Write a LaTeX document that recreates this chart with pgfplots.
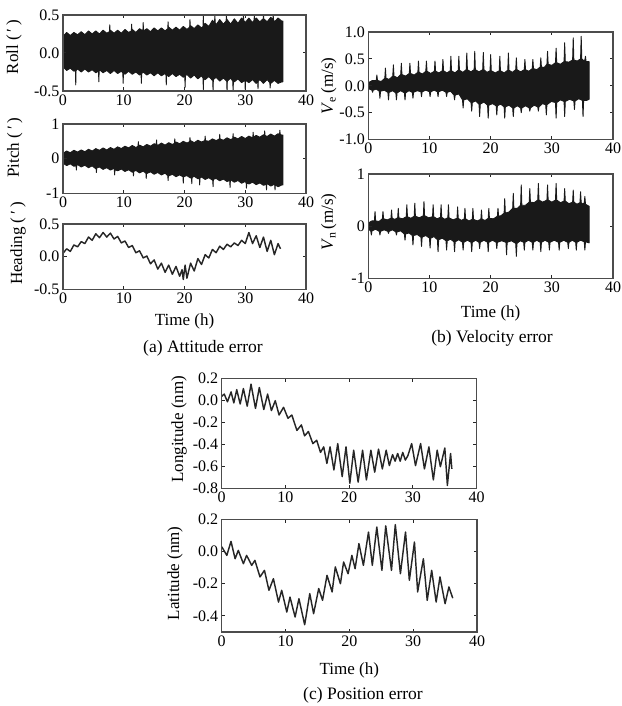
\documentclass[border=0pt]{standalone}
\usepackage{fontspec}
\setmainfont{Liberation Serif}
\usepackage{pgfplots}
\pgfplotsset{compat=1.18}
\pgfplotsset{
  myax/.style={
    scale only axis, anchor=south west, axis on top,
    xmin=0, xmax=40, xtick={0,10,20,30,40}, xticklabels={0,10,20,30,40},
    tick align=inside, major tick length=3.5pt,
    axis line style={line width=1.2pt, black!70},
    every tick/.style={black!85, line width=1pt},
    tick label style={font=\fontsize{16}{16}\selectfont},
    label style={font=\fontsize{17}{17}\selectfont},
    ylabel style={anchor=center},
    xlabel style={anchor=center},
  },
  band/.style={fill=black!90, draw=black!90, line width=0.9pt, line join=round},
  ln/.style={draw=black!85, line width=1.45pt, line join=round},
}
\begin{document}
\begin{tikzpicture}
\useasboundingbox (0pt,0pt) rectangle (621pt,706pt);
% ---------- Roll
\begin{axis}[myax, at={(63pt,615pt)}, width=243pt, height=76pt,
  ymin=-0.5, ymax=0.5, ytick={-0.5,0,0.5}, yticklabels={-0.5,0.0,0.5},
  ylabel={Roll (\,′\,)}, ylabel style={at={(axis description cs:-0.202,0.58)}}]
\addplot[band] coordinates {(0,0.22)(0.6,0.27)(1.2,0.23)(1.8,0.27)(2.4,0.24)(3.0,0.28)(3.6,0.24)(4.2,0.29)(4.8,0.25)(5.4,0.29)(6.0,0.25)(6.6,0.3)(7.2,0.26)(7.65,0.28)(7.7,0.37)(7.75,0.28)(7.8,0.3)(8.4,0.26)(9.0,0.3)(9.6,0.26)(10.2,0.31)(10.8,0.27)(11.25,0.29)(11.3,0.38)(11.35,0.29)(11.4,0.31)(12.0,0.27)(12.6,0.32)(13.15,0.29)(13.2,0.4)(13.25,0.29)(13.8,0.32)(14.4,0.28)(15.0,0.33)(15.6,0.29)(16.2,0.33)(16.8,0.29)(17.25,0.32)(17.3,0.41)(17.35,0.32)(17.4,0.34)(18.0,0.3)(18.6,0.34)(19.2,0.3)(19.8,0.35)(20.4,0.31)(20.85,0.34)(20.9,0.44)(20.95,0.34)(21.0,0.36)(21.6,0.32)(22.2,0.37)(22.8,0.33)(23.05,0.35)(23.1,0.5)(23.15,0.35)(23.4,0.39)(24.0,0.35)(24.6,0.43)(24.95,0.4)(25.0,0.5)(25.05,0.4)(25.2,0.37)(25.8,0.44)(26.4,0.38)(26.85,0.42)(26.9,0.5)(26.95,0.42)(27.0,0.44)(27.6,0.38)(28.2,0.45)(28.8,0.39)(29.4,0.46)(29.65,0.43)(29.7,0.5)(29.75,0.43)(30.0,0.4)(30.6,0.46)(31.2,0.4)(31.45,0.43)(31.5,0.5)(31.55,0.43)(31.8,0.46)(32.4,0.41)(32.95,0.45)(33.0,0.5)(33.05,0.45)(33.6,0.41)(34.2,0.47)(34.55,0.44)(34.6,0.5)(34.65,0.44)(34.8,0.41)(35.4,0.46)(36.0,0.42)(36.2,0.42)
(36.2,-0.38)(36.0,-0.38)(35.4,-0.4)(34.8,-0.36)(34.2,-0.4)(34.15,-0.39)(34.1,-0.46)(34.05,-0.39)(33.6,-0.35)(33.0,-0.4)(32.4,-0.35)(32.15,-0.37)(32.1,-0.47)(32.05,-0.37)(31.8,-0.4)(31.2,-0.35)(30.6,-0.39)(30.05,-0.36)(30.0,-0.49)(29.95,-0.36)(29.4,-0.39)(28.8,-0.34)(28.2,-0.38)(28.05,-0.37)(28.0,-0.5)(27.95,-0.37)(27.6,-0.33)(27.05,-0.37)(27.0,-0.5)(26.95,-0.37)(26.4,-0.33)(25.8,-0.37)(25.2,-0.32)(24.75,-0.35)(24.7,-0.5)(24.65,-0.35)(24.6,-0.36)(24.0,-0.31)(23.4,-0.35)(23.15,-0.33)(23.1,-0.48)(23.05,-0.33)(22.8,-0.3)(22.2,-0.34)(21.6,-0.29)(21.0,-0.33)(20.4,-0.28)(20.15,-0.3)(20.1,-0.45)(20.05,-0.3)(19.8,-0.32)(19.2,-0.28)(18.6,-0.31)(18.0,-0.27)(17.4,-0.31)(17.05,-0.29)(17.0,-0.42)(16.95,-0.29)(16.8,-0.27)(16.2,-0.3)(15.6,-0.26)(15.0,-0.3)(14.4,-0.26)(13.8,-0.29)(13.2,-0.25)(12.95,-0.27)(12.9,-0.4)(12.85,-0.27)(12.6,-0.29)(12.0,-0.25)(11.4,-0.28)(10.8,-0.24)(10.2,-0.28)(9.95,-0.26)(9.9,-0.4)(9.85,-0.26)(9.6,-0.24)(9.0,-0.27)(8.4,-0.23)(7.8,-0.27)(7.2,-0.23)(6.6,-0.26)(6.0,-0.22)(5.95,-0.24)(5.9,-0.38)(5.85,-0.24)(5.4,-0.26)(4.8,-0.22)(4.2,-0.25)(3.6,-0.21)(3.0,-0.25)(2.4,-0.21)(2.15,-0.23)(2.1,-0.42)(2.05,-0.23)(1.8,-0.24)(1.2,-0.2)(0.6,-0.23)(0,-0.18)} -- cycle;
\end{axis}
% ---------- Pitch
\begin{axis}[myax, at={(63pt,512.7pt)}, width=243pt, height=69.3pt,
  ymin=-1, ymax=1, ytick={-1,0,1}, yticklabels={-1,0,1},
  ylabel={Pitch (\,′\,)}, ylabel style={at={(axis description cs:-0.198,0.66)}}]
\addplot[band] coordinates {(0,0.15)(0.6,0.22)(1.2,0.17)(1.8,0.24)(2.4,0.19)(3.0,0.25)(3.6,0.2)(4.2,0.27)(4.8,0.22)(5.4,0.29)(6.0,0.24)(6.6,0.31)(7.2,0.25)(7.8,0.32)(8.4,0.27)(9.0,0.34)(9.6,0.29)(10.2,0.36)(10.8,0.31)(11.4,0.38)(12.0,0.32)(12.35,0.36)(12.4,0.49)(12.45,0.36)(12.6,0.39)(13.2,0.34)(13.8,0.41)(14.4,0.36)(15.0,0.43)(15.35,0.41)(15.4,0.54)(15.45,0.41)(15.6,0.38)(16.2,0.45)(16.8,0.39)(17.4,0.46)(18.0,0.41)(18.35,0.44)(18.4,0.57)(18.45,0.44)(18.6,0.48)(19.2,0.43)(19.8,0.5)(20.4,0.45)(20.85,0.49)(20.9,0.61)(20.95,0.49)(21.0,0.52)(21.6,0.46)(22.2,0.53)(22.8,0.48)(23.35,0.52)(23.4,0.65)(23.45,0.52)(24.0,0.5)(24.6,0.57)(25.2,0.52)(25.75,0.57)(25.8,0.7)(25.85,0.57)(26.4,0.53)(27.0,0.6)(27.6,0.55)(27.95,0.58)(28.0,0.72)(28.05,0.58)(28.2,0.62)(28.8,0.57)(29.4,0.64)(30.0,0.58)(30.6,0.65)(31.2,0.6)(31.25,0.62)(31.3,0.76)(31.35,0.62)(31.8,0.67)(32.4,0.62)(33.0,0.69)(33.15,0.67)(33.2,0.8)(33.25,0.67)(33.6,0.64)(34.2,0.71)(34.8,0.65)(35.4,0.72)(35.65,0.7)(35.7,0.82)(35.75,0.7)(36.0,0.68)(36.2,0.68)
(36.2,-0.76)(36.0,-0.76)(35.4,-0.81)(34.95,-0.76)(34.9,-0.9)(34.85,-0.76)(34.8,-0.74)(34.2,-0.79)(33.6,-0.72)(33.55,-0.74)(33.5,-0.9)(33.45,-0.74)(33.0,-0.77)(32.4,-0.7)(31.8,-0.75)(31.2,-0.68)(30.6,-0.73)(30.25,-0.7)(30.2,-0.85)(30.15,-0.7)(30.0,-0.66)(29.4,-0.71)(28.8,-0.63)(28.2,-0.68)(27.6,-0.61)(27.55,-0.63)(27.5,-0.83)(27.45,-0.63)(27.0,-0.66)(26.4,-0.59)(25.8,-0.64)(25.2,-0.57)(24.75,-0.6)(24.7,-0.81)(24.65,-0.6)(24.6,-0.62)(24.0,-0.55)(23.4,-0.6)(22.8,-0.53)(22.55,-0.56)(22.5,-0.76)(22.45,-0.56)(22.2,-0.58)(21.6,-0.51)(21.25,-0.54)(21.2,-0.72)(21.15,-0.54)(21.0,-0.56)(20.4,-0.49)(19.85,-0.52)(19.8,-0.71)(19.75,-0.52)(19.2,-0.47)(18.6,-0.52)(18.0,-0.45)(17.4,-0.5)(17.35,-0.49)(17.3,-0.63)(17.25,-0.49)(16.8,-0.42)(16.2,-0.47)(15.6,-0.4)(15.0,-0.45)(14.4,-0.38)(13.8,-0.43)(13.75,-0.42)(13.7,-0.57)(13.65,-0.42)(13.2,-0.36)(12.6,-0.41)(12.0,-0.34)(11.65,-0.37)(11.6,-0.5)(11.55,-0.37)(11.4,-0.39)(10.8,-0.32)(10.2,-0.37)(9.6,-0.3)(9.0,-0.35)(8.55,-0.32)(8.5,-0.47)(8.45,-0.32)(8.4,-0.28)(7.8,-0.33)(7.2,-0.26)(6.6,-0.31)(6.0,-0.24)(5.55,-0.27)(5.5,-0.4)(5.45,-0.27)(5.4,-0.29)(4.8,-0.21)(4.2,-0.26)(3.6,-0.19)(3.0,-0.24)(2.4,-0.17)(2.25,-0.2)(2.2,-0.33)(2.15,-0.2)(1.8,-0.22)(1.2,-0.15)(0.6,-0.2)(0,-0.13)} -- cycle;
\end{axis}
% ---------- Heading
\begin{axis}[myax, at={(63pt,416.7pt)}, width=243pt, height=65.3pt,
  ymin=-0.5, ymax=0.5, ytick={-0.5,0,0.5}, yticklabels={-0.5,0.0,0.5},
  ylabel={Heading (\,′\,)}, ylabel style={at={(axis description cs:-0.185,0.70)}},
  xlabel={Time (h)}, xlabel style={at={(axis description cs:0.5,-0.496)}}]
\addplot[ln] coordinates {(0,0.05)(0.6,0.12)(1.2,0.08)(1.8,0.18)(2.4,0.15)(3.0,0.23)(3.6,0.2)(4.2,0.3)(4.8,0.25)(5.4,0.35)(6.0,0.29)(6.6,0.37)(7.2,0.3)(7.8,0.36)(8.4,0.27)(9.0,0.31)(9.6,0.21)(10.2,0.24)(10.8,0.14)(11.4,0.17)(12.0,0.06)(12.6,0.09)(13.2,-0.02)(13.8,0.01)(14.4,-0.11)(15.0,-0.05)(15.6,-0.19)(16.2,-0.1)(16.8,-0.24)(17.4,-0.13)(18.0,-0.27)(18.6,-0.15)(19.2,-0.3)(19.6,-0.2)(19.8,-0.35)(20.1,-0.13)(20.4,-0.33)(21.0,-0.1)(21.6,-0.22)(22.2,-0.03)(22.8,-0.12)(23.4,0.03)(24.0,-0.02)(24.6,0.11)(25.2,0.06)(25.8,0.16)(26.4,0.11)(27.0,0.19)(27.6,0.15)(28.2,0.21)(28.8,0.17)(29.4,0.25)(30.0,0.2)(30.6,0.37)(31.2,0.2)(31.8,0.32)(32.4,0.14)(33.0,0.3)(33.6,0.08)(34.2,0.25)(34.8,0.03)(35.4,0.2)(35.8,0.12)};
\end{axis}
% ---------- Ve
\begin{axis}[myax, at={(368.3pt,566.3pt)}, width=244.7pt, height=107.7pt,
  ymin=-1, ymax=1, ytick={-1,-0.5,0,0.5,1}, yticklabels={-1.0,-0.5,0.0,0.5,1.0},
  ylabel={\textit{V}\textsubscript{e}\,(m/s)}, ylabel style={at={(axis description cs:-0.161,0.5)}}]
\addplot[band] coordinates {(0,0.06)(0.7,0.1)(1.3,0.1)(1.4,0.2)(1.5,0.1)(2.1,0.08)(2.7,0.14)(2.8,0.33)(2.9,0.14)(3.4,0.12)(4.0,0.18)(4.1,0.39)(4.2,0.18)(4.75,0.15)(5.3,0.21)(5.4,0.42)(5.5,0.21)(6.1,0.18)(6.7,0.23)(6.8,0.42)(6.9,0.23)(7.5,0.2)(8.1,0.25)(8.2,0.46)(8.3,0.25)(8.85,0.22)(9.4,0.27)(9.5,0.46)(9.6,0.27)(10.2,0.23)(10.8,0.27)(10.9,0.46)(11.0,0.27)(11.55,0.24)(12.1,0.28)(12.2,0.49)(12.3,0.28)(12.85,0.24)(13.4,0.28)(13.5,0.55)(13.6,0.28)(14.15,0.24)(14.7,0.29)(14.8,0.55)(14.9,0.29)(15.45,0.25)(16.0,0.3)(16.1,0.61)(16.2,0.3)(16.75,0.26)(17.3,0.3)(17.4,0.64)(17.5,0.3)(18.1,0.26)(18.7,0.3)(18.8,0.62)(18.9,0.3)(19.4,0.25)(19.9,0.28)(20.0,0.58)(20.1,0.28)(20.75,0.24)(21.4,0.28)(21.5,0.55)(21.6,0.28)(22.2,0.24)(22.8,0.29)(22.9,0.61)(23.0,0.29)(23.55,0.25)(24.1,0.3)(24.2,0.52)(24.3,0.3)(24.9,0.26)(25.5,0.3)(25.6,0.49)(25.7,0.3)(26.25,0.27)(26.8,0.32)(26.9,0.49)(27.0,0.32)(27.55,0.3)(28.1,0.35)(28.2,0.52)(28.3,0.35)(28.75,0.34)(29.2,0.4)(29.3,0.64)(29.4,0.4)(30.0,0.38)(30.6,0.43)(30.7,0.7)(30.8,0.43)(31.4,0.4)(32.0,0.45)(32.1,0.8)(32.2,0.45)(32.8,0.44)(33.4,0.48)(33.5,0.89)(33.6,0.48)(34.15,0.46)(34.7,0.5)(34.8,0.92)(34.9,0.5)(35.2,0.47)(35.4,0.48)(35.5,0.55)(35.6,0.45)(36.1,0.45)
(36.1,-0.25)(35.7,-0.27)(35.2,-0.27)(35.1,-0.57)(35.0,-0.27)(34.4,-0.24)(33.8,-0.28)(33.7,-0.44)(33.6,-0.28)(32.9,-0.25)(32.2,-0.29)(32.1,-0.57)(32.0,-0.29)(31.4,-0.26)(30.8,-0.31)(30.7,-0.6)(30.6,-0.31)(29.9,-0.29)(29.2,-0.35)(29.1,-0.54)(29.0,-0.35)(28.45,-0.33)(27.9,-0.39)(27.8,-0.47)(27.7,-0.39)(27.1,-0.36)(26.5,-0.41)(26.4,-0.47)(26.3,-0.41)(25.7,-0.37)(25.1,-0.41)(25.0,-0.5)(24.9,-0.41)(24.35,-0.37)(23.8,-0.41)(23.7,-0.57)(23.6,-0.41)(23.0,-0.36)(22.4,-0.39)(22.3,-0.6)(22.2,-0.39)(21.65,-0.34)(21.1,-0.37)(21.0,-0.54)(20.9,-0.37)(20.3,-0.33)(19.7,-0.36)(19.6,-0.6)(19.5,-0.36)(18.9,-0.3)(18.3,-0.34)(18.2,-0.57)(18.1,-0.34)(17.55,-0.28)(17.0,-0.31)(16.9,-0.47)(16.8,-0.31)(16.2,-0.24)(15.6,-0.26)(15.5,-0.41)(15.4,-0.26)(14.8,-0.15)(14.2,-0.17)(14.1,-0.26)(14.0,-0.17)(13.45,-0.1)(12.9,-0.12)(12.8,-0.2)(12.7,-0.12)(12.1,-0.08)(11.5,-0.11)(11.4,-0.2)(11.3,-0.11)(10.75,-0.08)(10.2,-0.11)(10.1,-0.2)(10.0,-0.11)(9.4,-0.08)(8.8,-0.11)(8.7,-0.2)(8.6,-0.11)(8.0,-0.09)(7.4,-0.12)(7.3,-0.23)(7.2,-0.12)(6.65,-0.09)(6.1,-0.13)(6.0,-0.26)(5.9,-0.13)(5.3,-0.09)(4.7,-0.13)(4.6,-0.26)(4.5,-0.13)(3.95,-0.09)(3.4,-0.12)(3.3,-0.26)(3.2,-0.12)(2.6,-0.08)(2.0,-0.1)(1.9,-0.23)(1.8,-0.1)(1.3,-0.06)(0.8,-0.08)(0.7,-0.12)(0.6,-0.08)(0,-0.05)} -- cycle;
\end{axis}
% ---------- Vn
\begin{axis}[myax, at={(368.3pt,427.7pt)}, width=244.7pt, height=104.3pt,
  ymin=-1, ymax=1, ytick={-1,0,1}, yticklabels={-1,0,1},
  ylabel={\textit{V}\textsubscript{n}\,(m/s)}, ylabel style={at={(axis description cs:-0.161,0.54)}},
  xlabel={Time (h)}, xlabel style={at={(axis description cs:0.5,-0.333)}}]
\addplot[band] coordinates {(0,0.06)(0.6,0.1)(1.0,0.1)(1.1,0.28)(1.2,0.1)(1.75,0.09)(2.3,0.14)(2.4,0.28)(2.5,0.14)(3.1,0.12)(3.7,0.15)(3.8,0.31)(3.9,0.15)(4.35,0.13)(4.8,0.16)(4.9,0.34)(5.0,0.16)(5.6,0.14)(6.2,0.18)(6.3,0.41)(6.4,0.18)(6.95,0.15)(7.5,0.19)(7.6,0.44)(7.7,0.19)(8.35,0.16)(9.0,0.2)(9.1,0.47)(9.2,0.2)(9.85,0.16)(10.5,0.18)(10.6,0.41)(10.7,0.18)(11.25,0.14)(11.8,0.17)(11.9,0.41)(12.0,0.17)(12.5,0.13)(13.0,0.16)(13.1,0.41)(13.2,0.16)(13.85,0.12)(14.5,0.15)(14.6,0.37)(14.7,0.15)(15.2,0.11)(15.7,0.14)(15.8,0.34)(15.9,0.14)(16.45,0.1)(17.0,0.13)(17.1,0.34)(17.2,0.13)(17.8,0.1)(18.4,0.13)(18.5,0.31)(18.6,0.13)(19.1,0.11)(19.6,0.15)(19.7,0.34)(19.8,0.15)(20.45,0.14)(21.1,0.19)(21.2,0.34)(21.3,0.19)(21.7,0.2)(22.2,0.25)(22.3,0.53)(22.4,0.25)(23.0,0.27)(23.6,0.34)(23.7,0.63)(23.8,0.34)(24.35,0.34)(24.9,0.4)(25.0,0.79)(25.1,0.4)(25.7,0.4)(26.3,0.46)(26.4,0.72)(26.5,0.46)(27.1,0.45)(27.7,0.5)(27.8,0.82)(27.9,0.5)(28.5,0.46)(29.2,0.5)(29.3,0.79)(29.4,0.5)(30.0,0.46)(30.6,0.5)(30.7,0.82)(30.8,0.5)(31.4,0.45)(32.0,0.48)(32.1,0.72)(32.2,0.48)(32.8,0.43)(33.4,0.46)(33.5,0.69)(33.6,0.46)(34.1,0.42)(34.6,0.45)(34.7,0.66)(34.8,0.45)(35.1,0.42)(35.3,0.45)(35.4,0.57)(35.5,0.42)(36.1,0.38)
(36.1,-0.32)(35.5,-0.3)(35.4,-0.46)(35.3,-0.3)(34.7,-0.27)(34.1,-0.31)(34.0,-0.46)(33.9,-0.31)(33.35,-0.27)(32.8,-0.31)(32.7,-0.43)(32.6,-0.31)(31.95,-0.27)(31.3,-0.31)(31.2,-0.46)(31.1,-0.31)(30.4,-0.27)(29.7,-0.31)(29.6,-0.46)(29.5,-0.31)(28.9,-0.27)(28.3,-0.31)(28.2,-0.49)(28.1,-0.31)(27.55,-0.27)(27.0,-0.31)(26.9,-0.46)(26.8,-0.31)(26.2,-0.27)(25.6,-0.31)(25.5,-0.46)(25.4,-0.31)(24.85,-0.28)(24.3,-0.33)(24.2,-0.58)(24.1,-0.33)(23.4,-0.28)(22.7,-0.31)(22.6,-0.55)(22.5,-0.31)(21.8,-0.28)(21.1,-0.31)(21.0,-0.43)(20.9,-0.31)(20.3,-0.27)(19.7,-0.31)(19.6,-0.49)(19.5,-0.31)(18.9,-0.27)(18.3,-0.31)(18.2,-0.43)(18.1,-0.31)(17.55,-0.27)(17.0,-0.31)(16.9,-0.49)(16.8,-0.31)(16.2,-0.27)(15.6,-0.31)(15.5,-0.46)(15.4,-0.31)(14.8,-0.26)(14.2,-0.3)(14.1,-0.49)(14.0,-0.3)(13.45,-0.25)(12.9,-0.28)(12.8,-0.46)(12.7,-0.28)(12.1,-0.23)(11.5,-0.26)(11.4,-0.49)(11.3,-0.26)(10.75,-0.2)(10.2,-0.23)(10.1,-0.42)(10.0,-0.23)(9.4,-0.18)(8.8,-0.21)(8.7,-0.39)(8.6,-0.21)(8.0,-0.16)(7.4,-0.18)(7.3,-0.36)(7.2,-0.18)(6.65,-0.13)(6.1,-0.15)(6.0,-0.27)(5.9,-0.15)(5.3,-0.09)(4.7,-0.11)(4.6,-0.17)(4.5,-0.11)(3.95,-0.07)(3.4,-0.1)(3.3,-0.14)(3.2,-0.1)(2.6,-0.07)(2.0,-0.1)(1.9,-0.17)(1.8,-0.1)(1.2,-0.06)(0.6,-0.09)(0.5,-0.17)(0.4,-0.09)(0,-0.06)} -- cycle;
\end{axis}
% ---------- Longitude
\begin{axis}[myax, at={(221.7pt,217.3pt)}, width=255pt, height=110pt,
  ymin=-0.8, ymax=0.2, ytick={-0.8,-0.6,-0.4,-0.2,0,0.2}, yticklabels={-0.8,-0.6,-0.4,-0.2,0.0,0.2},
  ylabel={Longitude (nm)}, ylabel style={at={(axis description cs:-0.167,0.54)}}]
\addplot[ln] coordinates {(0,0.04)(0.4,0.06)(0.9,-0.01)(1.47,0.08)(1.9,-0.02)(2.36,0.1)(2.9,-0.03)(3.4,0.11)(4.0,-0.05)(4.6,0.15)(5.3,-0.07)(5.9,0.12)(6.6,-0.08)(7.2,0.06)(7.8,-0.09)(8.4,0.0)(9.0,-0.13)(9.7,-0.06)(10.4,-0.16)(11.0,-0.13)(11.8,-0.27)(12.5,-0.22)(13.0,-0.32)(13.6,-0.28)(14.3,-0.39)(14.9,-0.36)(15.5,-0.47)(16.0,-0.42)(16.5,-0.57)(17.0,-0.42)(17.6,-0.63)(18.2,-0.39)(18.9,-0.69)(19.5,-0.42)(20.1,-0.75)(20.7,-0.45)(21.4,-0.74)(22.1,-0.45)(22.7,-0.72)(23.4,-0.45)(24.0,-0.65)(24.6,-0.44)(25.2,-0.62)(25.8,-0.45)(26.3,-0.59)(26.8,-0.49)(27.2,-0.55)(27.6,-0.48)(28.0,-0.55)(28.4,-0.47)(28.8,-0.54)(29.2,-0.5)(29.8,-0.39)(30.4,-0.59)(31.2,-0.39)(31.8,-0.62)(32.5,-0.42)(33.2,-0.72)(33.8,-0.45)(34.3,-0.6)(35.0,-0.43)(35.4,-0.77)(35.9,-0.48)(36.1,-0.62)};
\end{axis}
% ---------- Latitude
\begin{axis}[myax, at={(221.7pt,74pt)}, width=255.3pt, height=112.7pt,
  ymin=-0.5, ymax=0.2, ytick={-0.4,-0.2,0,0.2}, yticklabels={-0.4,-0.2,0.0,0.2},
  ylabel={Latitude (nm)}, ylabel style={at={(axis description cs:-0.183,0.52)}},
  xlabel={Time (h)}, xlabel style={at={(axis description cs:0.5,-0.337)}}]
\addplot[ln] coordinates {(0,0.03)(0.8,-0.024)(1.46,0.063)(2.1,-0.045)(2.6,0.007)(3.4,-0.076)(3.9,-0.024)(4.7,-0.086)(5.2,-0.055)(6.0,-0.158)(6.7,-0.117)(7.4,-0.241)(8.1,-0.169)(8.9,-0.314)(9.4,-0.241)(10.2,-0.376)(10.7,-0.283)(11.5,-0.407)(12.1,-0.293)(13.0,-0.455)(13.8,-0.262)(14.4,-0.386)(15.2,-0.23)(15.8,-0.303)(16.5,-0.148)(17.3,-0.251)(17.8,-0.096)(18.6,-0.2)(19.1,-0.065)(19.8,-0.138)(20.4,-0.024)(20.9,-0.107)(21.5,0.049)(22.2,-0.086)(23.0,0.121)(23.6,-0.086)(24.3,0.152)(25.1,-0.117)(25.7,0.159)(26.6,-0.117)(27.2,0.167)(28.0,-0.138)(28.8,0.121)(29.4,-0.179)(30.2,0.059)(30.7,-0.251)(31.6,-0.045)(32.2,-0.303)(32.9,-0.117)(33.6,-0.314)(34.2,-0.158)(35.0,-0.324)(35.6,-0.22)(36.2,-0.29)};
\end{axis}
% ---------- captions
\node[font=\fontsize{17.5}{17.5}\selectfont] at (203pt,358pt) {(a) Attitude error};
\node[font=\fontsize{17.5}{17.5}\selectfont] at (492pt,368pt) {(b) Velocity error};
\node[font=\fontsize{17.5}{17.5}\selectfont] at (363pt,11pt) {(c) Position error};
\end{tikzpicture}
\end{document}
